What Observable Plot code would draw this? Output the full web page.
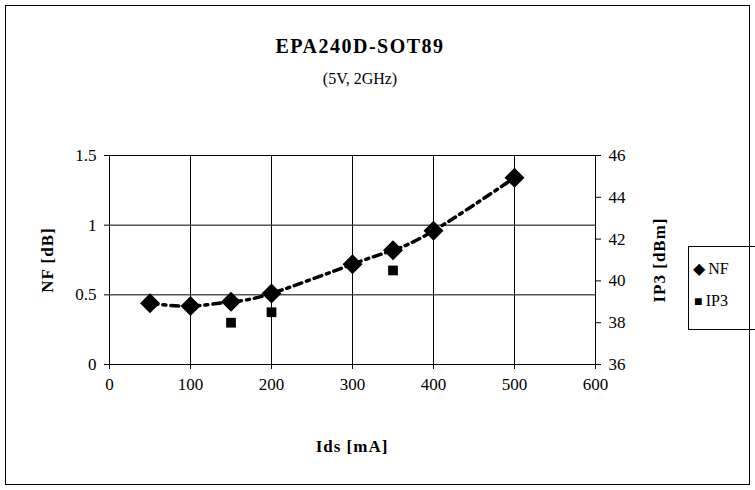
<!DOCTYPE html>
<html><head>
<script src="https://cdn.jsdelivr.net/npm/d3@7"></script>
<script src="https://cdn.jsdelivr.net/npm/@observablehq/plot@0.6"></script>
<style>
body{margin:0;background:#fff;font-family:"Liberation Serif",serif;}
#wrap{position:relative;width:755px;height:490px;}
#frame{position:absolute;left:5px;top:5px;width:743px;height:478px;border:1px solid #000;}
.t{position:absolute;white-space:nowrap;}
#legend{position:absolute;left:688px;top:246px;width:70px;height:82px;border:1px solid #000;border-right:none;font-size:16px;}
</style>
</head><body>
<div id="wrap">
<div id="frame"></div>
<div id="chart" style="position:absolute;left:0;top:0"></div>
<div class="t" style="left:0;width:720px;text-align:center;top:35px;font-size:20px;font-weight:bold;letter-spacing:1.5px">EPA240D-SOT89</div>
<div class="t" style="left:0;width:720px;text-align:center;top:70px;font-size:16px">(5V, 2GHz)</div>
<div class="t" style="left:0;width:704px;text-align:center;top:437px;font-size:17px;font-weight:bold;letter-spacing:1px">Ids [mA]</div>
<div class="t" style="left:48px;top:260px;font-size:17px;font-weight:bold;letter-spacing:1px;transform:translate(-50%,-50%) rotate(-90deg)">NF [dB]</div>
<div class="t" style="left:660px;top:260px;font-size:17px;font-weight:bold;letter-spacing:1px;transform:translate(-50%,-50%) rotate(-90deg)">IP3 [dBm]</div>
<div id="legend">
<div class="t" style="left:4px;top:12px">&#9670;&thinsp;NF</div>
<div class="t" style="left:5px;top:45px"><span style="font-size:14px">&#9632;</span>&thinsp;IP3</div>
</div>
</div>
<script>
const ids = [50, 100, 150, 200, 300, 350, 400, 500];
const nf = [0.44, 0.42, 0.45, 0.51, 0.72, 0.82, 0.96, 1.34];
const ip3Ids = [150, 200, 350];
const ip3 = [38.0, 38.5, 40.5];
const xTicks = [0, 100, 200, 300, 400, 500, 600];
const nfTicks = [0, 0.5, 1, 1.5];
const ip3Ticks = [36, 38, 40, 42, 44, 46];

// IP3 on the right axis maps 36..46 onto 0..1.5
const toLeft = v => (v - 36) / 10 * 1.5;

const nfData = ids.map((x, i) => ({x, y: nf[i]}));
const ip3Data = ip3Ids.map((x, i) => ({x, y: toLeft(ip3[i])}));

let chart = Plot.plot({
  width: 755, height: 490,
  marginLeft: 109, marginRight: 160, marginTop: 155, marginBottom: 126,
  style: {fontFamily: "Liberation Serif", fontSize: "16px", color: "#000", background: "transparent"},
  x: {domain: [0, 600]},
  y: {domain: [0, 1.5]},
  marks: [
    Plot.gridX(xTicks, {stroke: "#000", strokeOpacity: 1, strokeWidth: 1}),
    Plot.gridY(nfTicks, {stroke: "#000", strokeOpacity: 1, strokeWidth: 1}),
    Plot.frame({stroke: "#000"}),
    Plot.axisX({ticks: xTicks, tickSize: 5, tickPadding: 8, label: null, fontSize: 17}),
    Plot.axisY({ticks: nfTicks, tickSize: 5, tickPadding: 8, label: null, fontSize: 17, tickFormat: d => String(d)}),
    Plot.axisY({anchor: "right", ticks: ip3Ticks.map(toLeft), tickSize: 5, tickPadding: 8, label: null, fontSize: 17,
      tickFormat: (d, i) => ip3Ticks[i]}),
    Plot.line(nfData, {x: "x", y: "y", curve: "natural", stroke: "#000", strokeWidth: 3.5, strokeDasharray: "8,5,3,5"}),
    Plot.dot(ip3Data, {x: "x", y: "y", symbol: "square", r: 5.5, fill: "#000"}),
    Plot.dot(nfData, {x: "x", y: "y", symbol: "diamond2", r: 9, fill: "#000"})
  ]
});
document.getElementById('chart').append(chart);
</script>
</body></html>
